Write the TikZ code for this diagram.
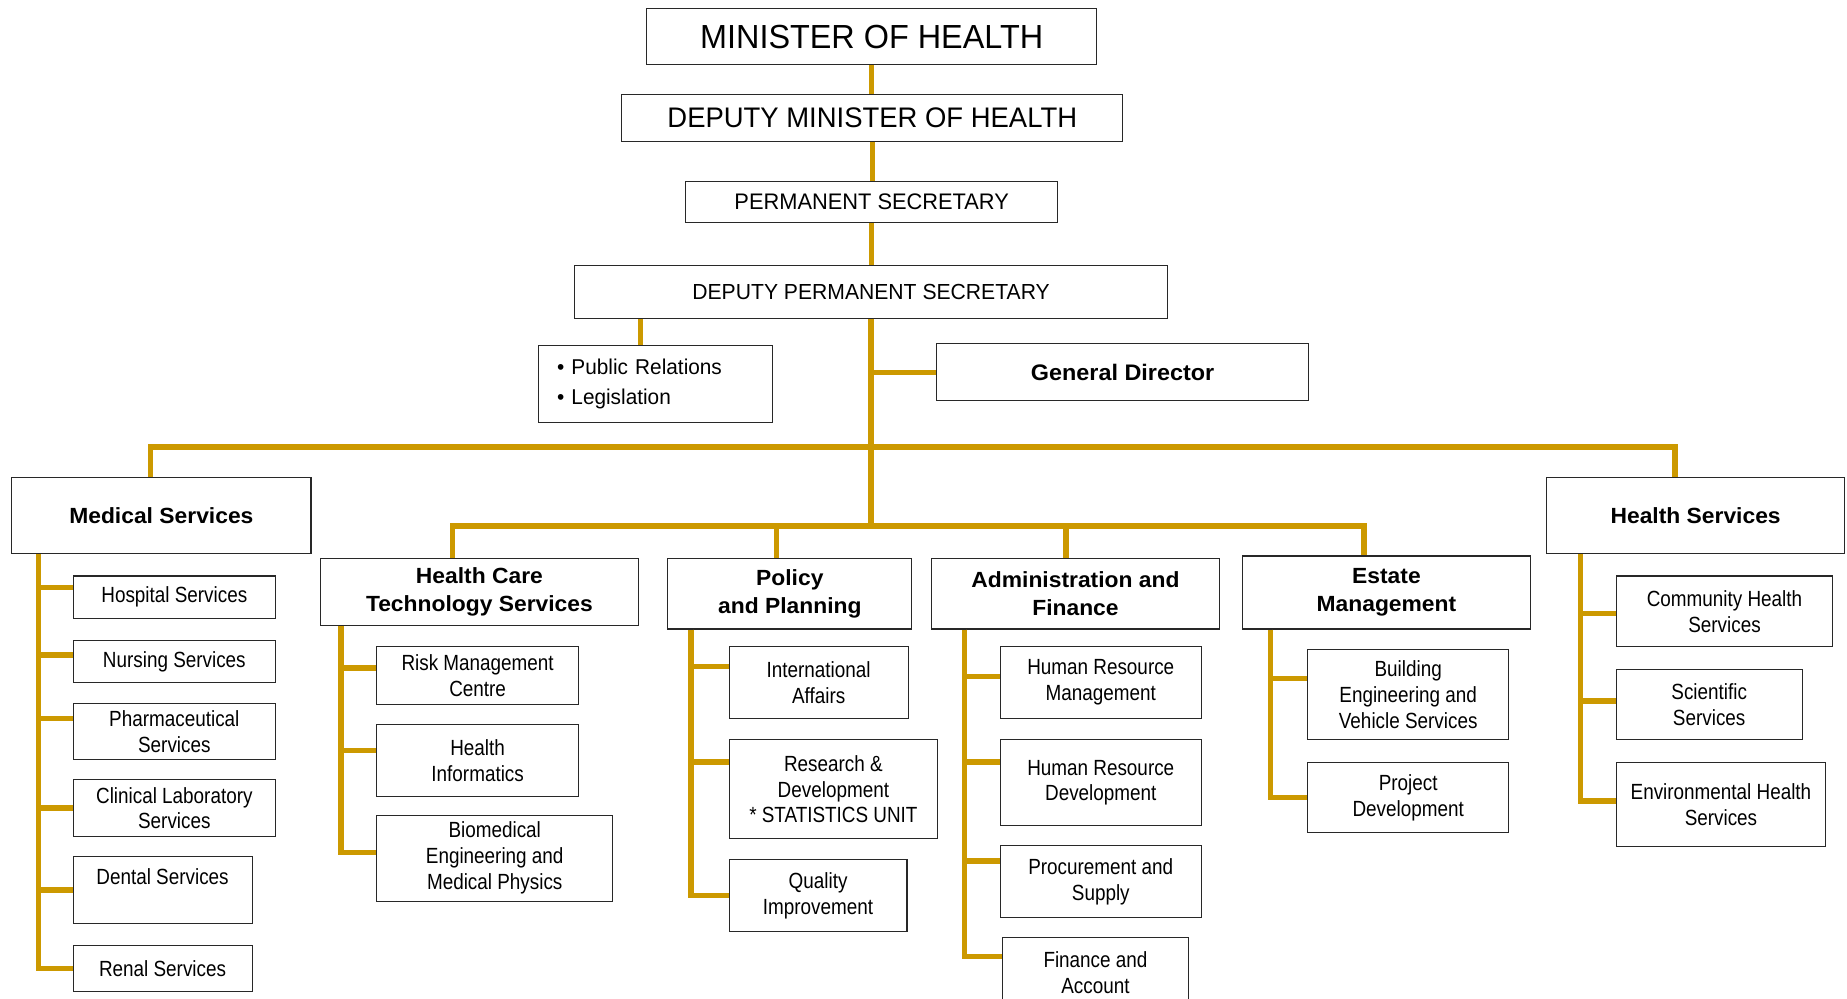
\documentclass[tikz,border=0pt]{standalone}
\usepackage{fontspec}
\setmainfont{Liberation Sans}[FakeStretch=0.86]
\newfontfamily\headfont{Liberation Sans}[FakeStretch=1.04]
\newfontfamily\titlefont{Liberation Sans}[FakeStretch=0.97]
\usepackage{tikz}
\usetikzlibrary{positioning, calc}
\definecolor{healthgold}{RGB}{204,153,0}
\definecolor{boxline}{RGB}{40,40,40}

\begin{document}
\begin{tikzpicture}[
    x=0.02356cm, y=-0.02356cm,
    boxsize/.style 2 args={minimum width=#1*0.02356cm, minimum height=#2*0.02356cm},
    topbox/.style={rectangle, draw=boxline, line width=0.6pt, inner sep=0pt, align=center},
    division/.style={topbox, font=\headfont\fontsize{12.5}{16}\selectfont\bfseries},
    unitbox/.style={topbox, font=\fontsize{12.5}{14.7}\selectfont},
    link/.style={line width=3pt, color=healthgold}
]
\useasboundingbox (0,0) rectangle (1568,848);

\node[topbox, boxsize={382}{48}, font=\titlefont\fontsize{19}{22}\selectfont] (minister) at (740,31) {MINISTER OF HEALTH};
\node[topbox, boxsize={425}{40}, font=\titlefont\fontsize{16.1}{19}\selectfont] (depmin) at (740.5,100) {DEPUTY MINISTER OF HEALTH};
\node[topbox, boxsize={316}{35}, font=\titlefont\fontsize{12.8}{15}\selectfont] (permsec) at (740,171.5) {PERMANENT SECRETARY};
\node[topbox, boxsize={503}{45}, font=\titlefont\fontsize{12.4}{15}\selectfont] (deppermsec) at (739.5,247.5) {DEPUTY PERMANENT SECRETARY};
\node[topbox, boxsize={199}{66}, font=\titlefont\fontsize{12.2}{16.7}\selectfont, align=left, text width=3.94cm] (pubrel) at (556.5,326) {\textbullet\ Public Relations\\\textbullet\ Legislation};
\node[topbox, boxsize={316}{48}, font=\headfont\fontsize{12.8}{16}\selectfont\bfseries] (gendir) at (953,316) {General Director};

\node[division, boxsize={254}{65}] (medical) at (137,437.5) {Medical Services};
\node[division, boxsize={270}{57}] (hcts) at (407,502.5) {Health Care\\Technology Services};
\node[division, boxsize={207}{60}] (policy) at (670.5,504) {Policy\\and Planning};
\node[division, boxsize={244}{60}] (admin) at (913,504) {Administration and\\Finance};
\node[division, boxsize={244}{62}] (estate) at (1177,503) {Estate\\Management};
\node[division, boxsize={253}{65}] (healthsvc) at (1439.5,437.5) {Health Services};

\node[unitbox, boxsize={172}{36}] (hospital) at (148,507) {Hospital Services};
\node[unitbox, boxsize={172}{35}] (nursing) at (148,561.5) {Nursing Services};
\node[unitbox, boxsize={172}{48}] (pharma) at (148,621) {Pharmaceutical\\Services};
\node[unitbox, boxsize={172}{48}] (clinlab) at (148,686) {Clinical Laboratory\\Services};
\node[unitbox, boxsize={152}{57}] (dental) at (138,755.5) {Dental Services\\~};
\node[unitbox, boxsize={152}{39}] (renal) at (138,822.5) {Renal Services};

\node[unitbox, boxsize={171}{49}] (risk) at (405.5,573.5) {Risk Management\\Centre};
\node[unitbox, boxsize={171}{61}] (informatics) at (405.5,645.5) {Health\\Informatics};
\node[unitbox, boxsize={200}{73}] (biomed) at (420,728.5) {Biomedical\\Engineering and\\Medical Physics};

\node[unitbox, boxsize={152}{61}] (intl) at (695,579.5) {International\\Affairs};
\node[unitbox, boxsize={177}{84}] (research) at (707.5,670) {Research \&\\Development\\* STATISTICS UNIT};
\node[unitbox, boxsize={151}{61}] (quality) at (694.5,760.5) {Quality\\Improvement};

\node[unitbox, boxsize={171}{61}] (hrm) at (934.5,579.5) {Human Resource\\Management};
\node[unitbox, boxsize={171}{73}] (hrd) at (934.5,664.5) {Human Resource\\Development};
\node[unitbox, boxsize={171}{61}] (procure) at (934.5,748.5) {Procurement and\\Supply};
\node[unitbox, boxsize={158}{60}] (finance) at (930,826) {Finance and\\Account};

\node[unitbox, boxsize={171}{77}] (building) at (1195.5,589.5) {Building\\Engineering and\\Vehicle Services};
\node[unitbox, boxsize={171}{60}] (project) at (1195.5,677) {Project\\Development};

\node[unitbox, boxsize={184}{60}] (community) at (1464,519) {Community Health\\Services};
\node[unitbox, boxsize={158}{60}] (scientific) at (1451,598) {Scientific\\Services};
\node[unitbox, boxsize={178}{72}] (envhealth) at (1461,683) {Environmental Health\\Services};

% top of the chain
\draw[link] (minister.south) -- (minister.south |- depmin.north);
\draw[link] (depmin.south) -- (depmin.south |- permsec.north);
\draw[link] (permsec.south) -- (permsec.south |- deppermsec.north);
\coordinate (prdrop) at ($(pubrel.north)+(-12.5,0)$);
\draw[link] (prdrop) -- (prdrop |- deppermsec.south);
\draw[link] (deppermsec.south) -- ++(0,176) coordinate (hub);
\draw[link] (gendir.west) -- (gendir.west -| hub);

% buses to the divisions
\coordinate (meddrop) at ($(medical.north)+(-9,0)$);
\coordinate (hsdrop) at ($(healthsvc.north)+(-17.5,0)$);
\draw[link] (meddrop) -- ++(0,-25) -| (hsdrop);
\coordinate (hctsdrop) at ($(hcts.north)+(-23,0)$);
\coordinate (estatedrop) at ($(estate.north)+(-19,0)$);
\draw[link] (hctsdrop) |- (hub) -| (estatedrop);
\draw[link] ($(policy.north)+(-11.5,0)$) -- ++(0,-28);
\draw[link] ($(admin.north)+(-8,0)$) -- ++(0,-28);

% units
\coordinate (medtrunk) at ($(medical.south west)+(23,0)$);
\draw[link] (medtrunk) |- ($(hospital.west)+(0,-8)$);
\draw[link] (medtrunk) |- ($(nursing.west)+(0,-5.5)$);
\draw[link] (medtrunk) |- ($(pharma.west)+(0,-11)$);
\draw[link] (medtrunk) |- (clinlab.west);
\draw[link] (medtrunk) |- (dental.west);
\draw[link] (medtrunk) |- (renal.west);

\coordinate (hctstrunk) at ($(hcts.south west)+(18,0)$);
\draw[link] (hctstrunk) |- ($(risk.west)+(0,-6.5)$);
\draw[link] (hctstrunk) |- ($(informatics.west)+(0,-8.5)$);
\draw[link] (hctstrunk) |- ($(biomed.west)+(0,-4.5)$);

\coordinate (policytrunk) at ($(policy.south west)+(20,0)$);
\draw[link] (policytrunk) |- ($(intl.west)+(0,-13.5)$);
\draw[link] (policytrunk) |- ($(research.west)+(0,-23)$);
\draw[link] (policytrunk) |- (quality.west);

\coordinate (admintrunk) at ($(admin.south west)+(28,0)$);
\draw[link] (admintrunk) |- ($(hrm.west)+(0,-5.5)$);
\draw[link] (admintrunk) |- ($(hrd.west)+(0,-17.5)$);
\draw[link] (admintrunk) |- ($(procure.west)+(0,-17.5)$);
\draw[link] (admintrunk) |- ($(finance.west)+(0,-14)$);

\coordinate (estatetrunk) at ($(estate.south west)+(24,0)$);
\draw[link] (estatetrunk) |- ($(building.west)+(0,-13.5)$);
\draw[link] (estatetrunk) |- (project.west);

\coordinate (hstrunk) at ($(healthsvc.south west)+(29,0)$);
\draw[link] (hstrunk) |- ($(community.west)+(0,2)$);
\draw[link] (hstrunk) |- ($(scientific.west)+(0,-3)$);
\draw[link] (hstrunk) |- ($(envhealth.west)+(0,-3)$);

\end{tikzpicture}
\end{document}
